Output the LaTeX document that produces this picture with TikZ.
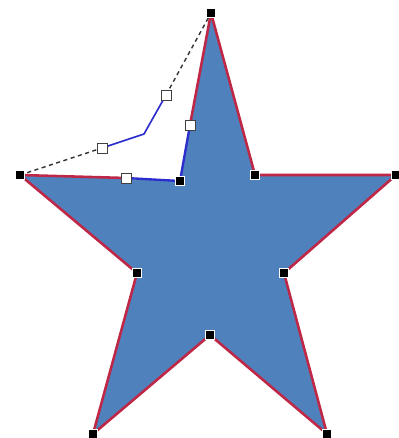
\documentclass[tikz,border=0pt]{standalone}
\usepackage{tikz}
\usepackage{xcolor}

\definecolor{starfill}{RGB}{79,129,189}
\definecolor{starline}{RGB}{190,40,70}
\definecolor{editline}{RGB}{45,45,205}

\begin{document}
\begin{tikzpicture}[x=0.3mm,y=-0.3mm,
  vertex/.style={draw=white,fill=black,line width=0.4pt,minimum size=2.6mm,inner sep=0pt},
  handle/.style={draw=black!75,fill=white,line width=0.8pt,minimum size=3mm,inner sep=0pt}]
\useasboundingbox (0,0) rectangle (399,438);
% star corners
\coordinate (top) at (211,13);
\coordinate (itr) at (255,175);
\coordinate (rt) at (396,175);
\coordinate (ir) at (284,273);
\coordinate (br) at (327,434);
\coordinate (ib) at (210,335);
\coordinate (bl) at (93,434);
\coordinate (il) at (137,273);
\coordinate (lt) at (20,175);
\coordinate (itl) at (180,181);
% bezier handles
\coordinate (h1) at (126,178);
\coordinate (h2) at (190,125);
\coordinate (h3) at (102,148);
\coordinate (h4) at (166,95);
\coordinate (bend) at (144,134);
\fill[starfill] (top) -- (itr) -- (rt) -- (ir) -- (br) -- (ib) -- (bl) -- (il) -- (lt) -- (itl) -- cycle;
\draw[starline,line width=2.2pt,line join=round] (h2) -- (top) -- (itr) -- (rt) -- (ir) -- (br) -- (ib) -- (bl) -- (il) -- (lt) -- (h1);
\draw[editline,line width=2pt] (h1) -- (itl) -- (h2);
\draw[editline,line width=1.4pt] (h3) -- (bend) -- (h4);
\draw[black!80,line width=1.2pt,dash pattern=on 3.5pt off 3pt] (lt) -- (h3);
\draw[black!80,line width=1.2pt,dash pattern=on 3.5pt off 3pt] (h4) -- (top);
% markers
\foreach \p in {top,itr,rt,ir,br,ib,bl,il,lt,itl}
  \node[vertex] (m-\p) at (\p) {};
\foreach \p in {h1,h2,h3,h4}
  \node[handle] (m-\p) at (\p) {};
\end{tikzpicture}
\end{document}
